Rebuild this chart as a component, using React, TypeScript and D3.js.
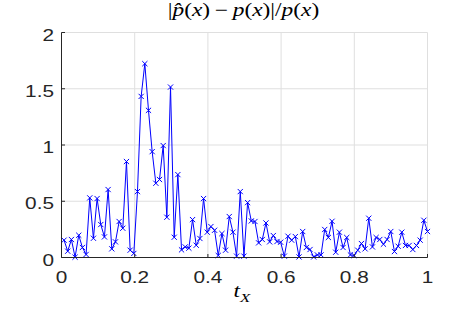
import React from "react";
import * as d3 from "d3";

const N_POINTS = 100;
const T_START = 0.007;
const T_END = 1.0;
const ERR = [
  0.154, 0.056, 0.16, 0.003, 0.198, 0.089, 0.027, 0.53, 0.171, 0.524,
  0.293, 0.183, 0.604, 0.077, 0.139, 0.32, 0.26, 0.853, 0.065, 0.036,
  0.586, 1.432, 1.723, 1.308, 0.941, 0.66, 0.693, 0.995, 0.358, 1.515,
  0.18, 0.737, 0.068, 0.094, 0.083, 0.337, 0.109, 0.169, 0.524, 0.225,
  0.275, 0.242, 0.018, 0.213, 0.065, 0.364, 0.225, 0.012, 0.586, 0.012,
  0.488, 0.325, 0.32, 0.13, 0.16, 0.307, 0.139, 0.195, 0.142, 0.136,
  0.012, 0.189, 0.154, 0.186, 0.005, 0.231, 0.089, 0.071, 0.005, 0.023,
  0.023, 0.249, 0.178, 0.322, 0.047, 0.225, 0.089, 0.178, 0.023, 0.018,
  0.065, 0.124, 0.077, 0.349, 0.094, 0.178, 0.16, 0.118, 0.16, 0.231,
  0.053, 0.1, 0.225, 0.107, 0.107, 0.071, 0.107, 0.154, 0.331, 0.231,
];
const X_TICKS = [0, 0.2, 0.4, 0.6, 0.8, 1];
const Y_TICKS = [0, 0.5, 1, 1.5, 2];

const W = 472;
const H = 316;
const L = 61.5, R = 427.5, T = 32.5, B = 257.5;
const SX = 1.3;

export default function App() {
  const x = d3.scaleLinear().domain([0, 1]).range([L, R]);
  const y = d3.scaleLinear().domain([0, 2]).range([B, T]);
  const tGrid = d3.range(N_POINTS).map((i) => T_START + (i * (T_END - T_START)) / (N_POINTS - 1));
  const pts = ERR.map((v, i) => [tGrid[i], v] as [number, number]);
  const line = d3.line<[number, number]>().x((d) => x(d[0])).y((d) => y(d[1]));
  const axisColor = "#262626";
  const gridColor = "#dfdfdf";
  const m = 2.6;
  const labelFont = "'Liberation Sans', Arial, Helvetica, sans-serif";
  const mathFont = "'Liberation Serif', 'DejaVu Serif', serif";
  return (
    <svg width={W} height={H} style={{ position: "absolute", left: 0, top: 0, background: "#fff" }}>
      <rect x={0} y={0} width={W} height={H} fill="#fff" />
      {X_TICKS.map((t) => (
        <line key={"gx" + t} x1={x(t)} x2={x(t)} y1={T} y2={B} stroke={gridColor} strokeWidth={1} />
      ))}
      {Y_TICKS.map((t) => (
        <line key={"gy" + t} x1={L} x2={R} y1={y(t)} y2={y(t)} stroke={gridColor} strokeWidth={1} />
      ))}
      <path d={line(pts) || ""} fill="none" stroke="#0000ff" strokeWidth={1} />
      {pts.map((d, i) => {
        const cx = x(d[0]);
        const cy = y(d[1]);
        return (
          <path
            key={"m" + i}
            d={`M${cx - m},${cy - m}L${cx + m},${cy + m}M${cx - m},${cy + m}L${cx + m},${cy - m}`}
            stroke="#0000ff"
            strokeWidth={1}
            fill="none"
          />
        );
      })}
      <line x1={L} x2={R} y1={B} y2={B} stroke={axisColor} strokeWidth={1} />
      <line x1={L} x2={L} y1={T} y2={B} stroke={axisColor} strokeWidth={1} />
      {X_TICKS.map((t) => (
        <g key={"tx" + t}>
          <line x1={x(t)} x2={x(t)} y1={B} y2={B - 3.5} stroke={axisColor} strokeWidth={1} />
          <g transform={`translate(${x(t)},283) scale(${SX},1)`}>
            <text x={0} y={0} textAnchor="middle" fontFamily={labelFont} fontSize={16} fill={axisColor}>
              {String(t)}
            </text>
          </g>
        </g>
      ))}
      {Y_TICKS.map((t) => (
        <g key={"ty" + t}>
          <line x1={L} x2={L + 3.5} y1={y(t)} y2={y(t)} stroke={axisColor} strokeWidth={1} />
          <g transform={`translate(54,${y(t) + 8}) scale(${SX},1)`}>
            <text x={0} y={0} textAnchor="end" fontFamily={labelFont} fontSize={16} fill={axisColor}>
              {String(t)}
            </text>
          </g>
        </g>
      ))}
      <g transform={`translate(243.5,16) scale(${SX},1)`}>
        <text x={0} y={0} textAnchor="middle" fontFamily={mathFont} fontSize={18} fill="#000">
          <tspan>|</tspan>
          <tspan fontStyle="italic">{"p\u0302"}</tspan>
          <tspan>(</tspan>
          <tspan fontStyle="italic">x</tspan>
          <tspan>{")\u2009\u2212\u2009"}</tspan>
          <tspan fontStyle="italic">p</tspan>
          <tspan>(</tspan>
          <tspan fontStyle="italic">x</tspan>
          <tspan>{")|/"}</tspan>
          <tspan fontStyle="italic">p</tspan>
          <tspan>(</tspan>
          <tspan fontStyle="italic">x</tspan>
          <tspan>)</tspan>
        </text>
      </g>
      <g transform={`translate(242,297) scale(${SX},1)`}>
        <text x={0} y={0} textAnchor="middle" fontFamily={mathFont} fontSize={18} fill="#000">
          <tspan fontStyle="italic">t</tspan>
          <tspan fontStyle="italic" fontSize={13} dy={5}>X</tspan>
        </text>
      </g>
    </svg>
  );
}
